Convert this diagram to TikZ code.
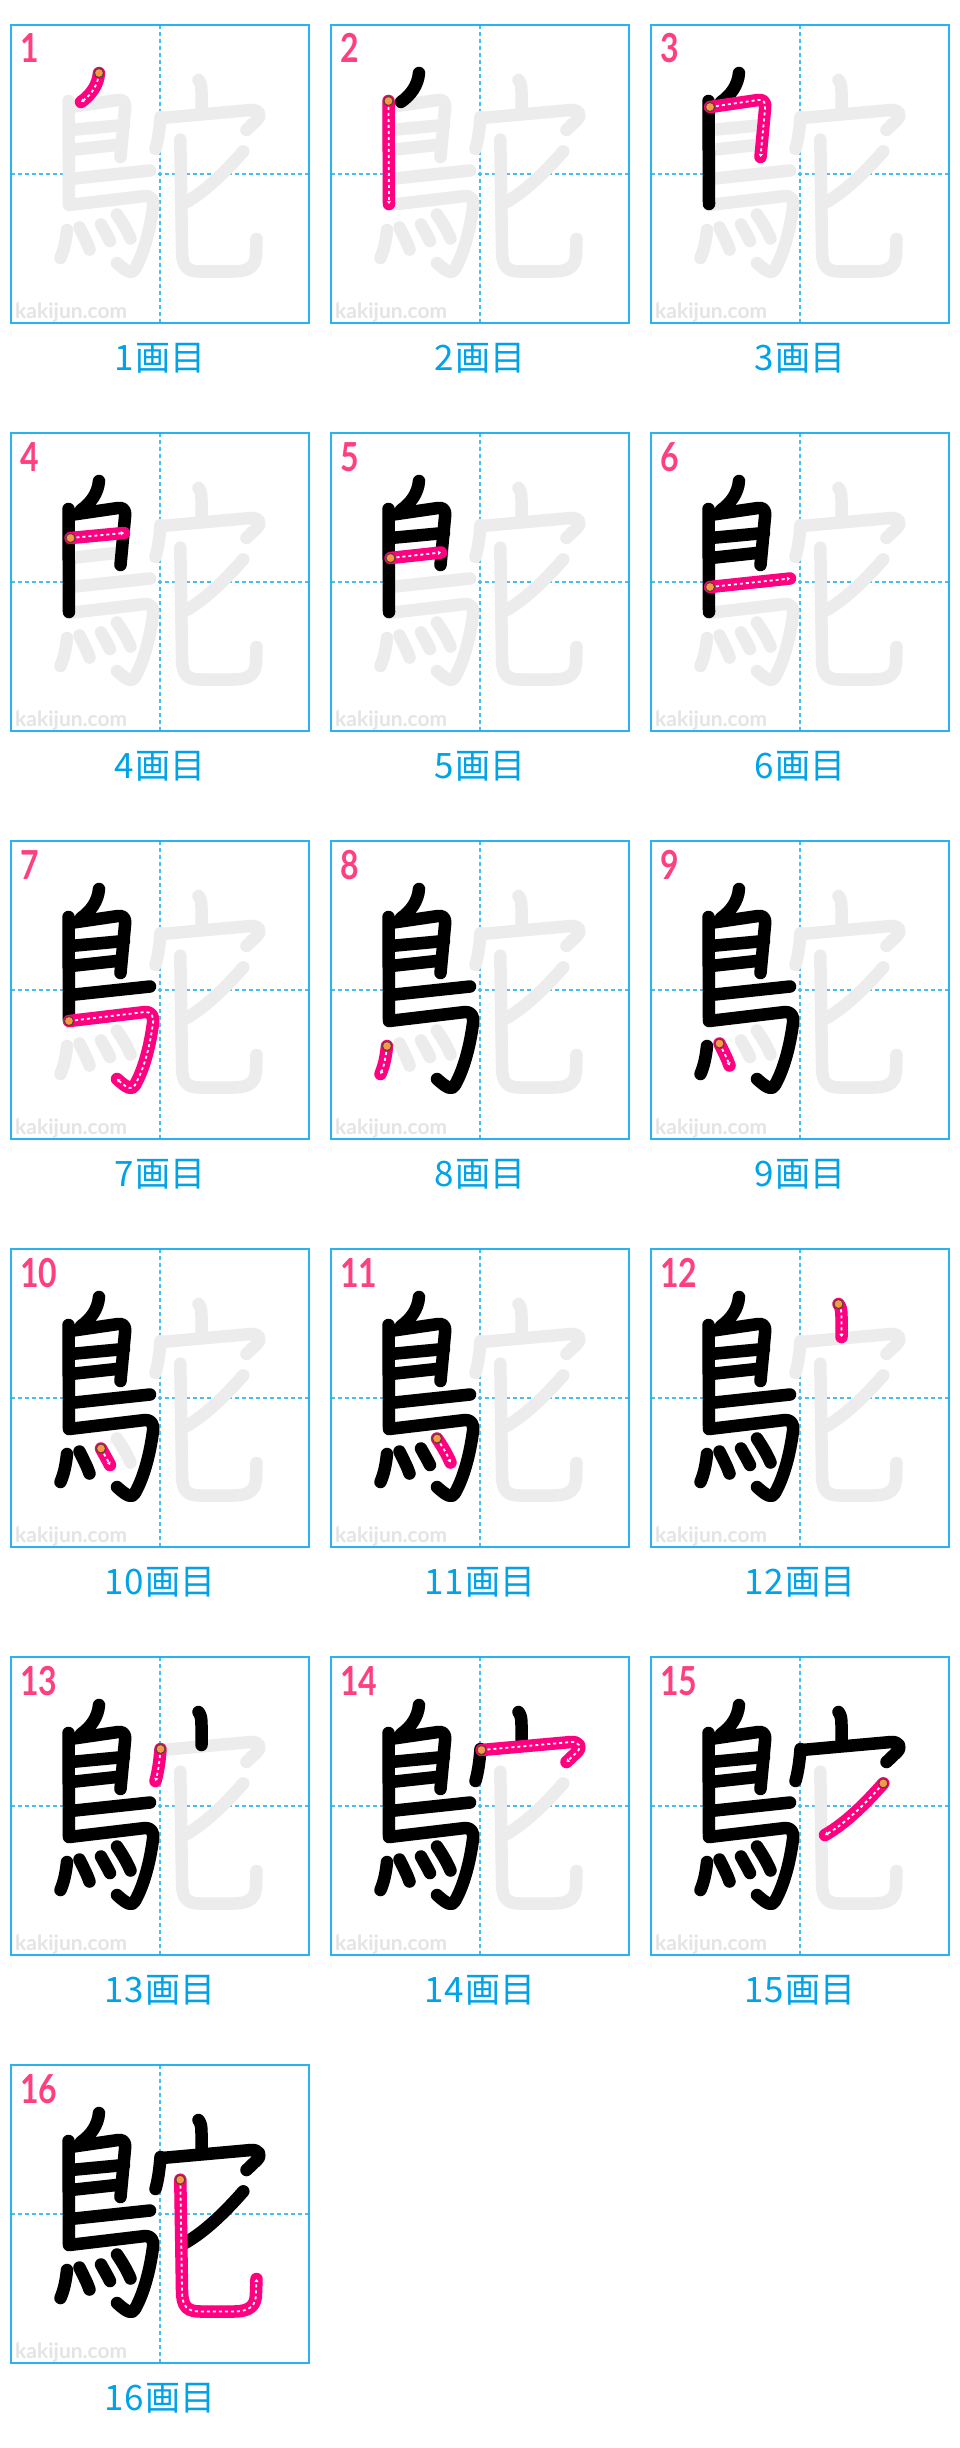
\documentclass[tikz,border=0pt]{standalone}
\usepackage{fontspec}
\usepackage{graphicx}
\usetikzlibrary{arrows.meta}
\newfontfamily\jpfont{Noto Sans CJK JP}
\newfontfamily\numfont{Lato}
\definecolor{framecol}{RGB}{40,178,240}
\definecolor{midcol}{RGB}{70,190,242}
\definecolor{ghostgray}{RGB}{236,236,236}
\definecolor{strokepink}{RGB}{255,0,128}
\definecolor{numpink}{RGB}{255,64,128}
\definecolor{capblue}{RGB}{0,162,232}
\definecolor{wmgray}{RGB}{228,228,228}
\definecolor{dotorange}{RGB}{248,152,72}
\definecolor{dotbrown}{RGB}{95,65,45}
\tikzset{
  kchr/.style={line width=12.5pt, line cap=round, line join=round},
  kghost/.style={kchr, draw=ghostgray},
  kdone/.style={kchr, draw=black},
  kactive/.style={kchr, draw=strokepink},
  kguide/.style={draw=white, line width=1.8pt, dash pattern=on 3pt off 3pt, -{Triangle[length=3pt,width=4pt]}},
  kdot/.style={fill=dotorange, draw=dotbrown, line width=1.2pt},
  kframe/.style={draw=framecol, line width=1.3pt},
  kmid/.style={draw=midcol, line width=1.6pt, dash pattern=on 4pt off 3pt},
  knum/.style={text=numpink, anchor=base west, inner sep=0pt, font=\numfont\bfseries\fontsize{40}{40}\selectfont},
  kcap/.style={text=capblue, anchor=base, inner sep=0pt, font=\jpfont\fontsize{35}{35}\selectfont},
  kwm/.style={text=wmgray, anchor=base west, inner sep=0pt, font=\numfont\bfseries\fontsize{21}{21}\selectfont},
}
\newcommand\drawstroke[2]{%
\ifcase#2\relax
\or \draw[#1] (88,48) .. controls (87,60) and (80,70) .. (70,77);
\or \draw[#1] (57.5,76) -- (58,179);
\or \draw[#1] (59,82) -- (107,75) .. controls (113,74) and (115,78) .. (114,84) -- (109.5,132);
\or \draw[#1] (59.5,105) -- (113,100);
\or \draw[#1] (59.5,125) -- (110,119.5);
\or \draw[#1] (59,154) -- (139,145.5);
\or \draw[#1] (58,180) -- (134,171) .. controls (140,170.5) and (143,175) .. (142,182) .. controls (139,205) and (133,228) .. (124,244) .. controls (121,249) and (117,248) .. (106,238);
\or \draw[#1] (56,205) .. controls (55,215) and (53,225) .. (49.5,233);
\or \draw[#1] (68.5,202.5) .. controls (72,210) and (76,217) .. (78.5,224.5);
\or \draw[#1] (90,199.5) .. controls (93,205) and (96,210) .. (99,216);
\or \draw[#1] (106,189.5) .. controls (111,197) and (116,205) .. (119.5,213.5);
\or \draw[#1] (187.5,55) .. controls (190,58) and (190.5,62) .. (190.5,68) -- (190.5,88);
\or \draw[#1] (149.5,92) .. controls (148.5,105) and (147,115) .. (144.5,124);
\or \draw[#1] (150.5,93) -- (240,85) .. controls (248,84.5) and (251,90) .. (246,95) -- (235.5,105);
\or \draw[#1] (232.3,126.3) .. controls (215,146) and (195,166) .. (174,178);
\or \draw[#1] (169.3,114.7) -- (171,225) .. controls (171,242) and (176,246.5) .. (190,246.5) -- (222,246.5) .. controls (240,246.5) and (245,240) .. (245,228) -- (245.5,214);
\fi}
\newcommand\startdot[1]{%
\ifcase#1\relax
\or \def\sx{88}\def\sy{48}%
\or \def\sx{57.5}\def\sy{76}%
\or \def\sx{59}\def\sy{82}%
\or \def\sx{59.5}\def\sy{105}%
\or \def\sx{59.5}\def\sy{125}%
\or \def\sx{59}\def\sy{154}%
\or \def\sx{58}\def\sy{180}%
\or \def\sx{56}\def\sy{205}%
\or \def\sx{68.5}\def\sy{202.5}%
\or \def\sx{90}\def\sy{199.5}%
\or \def\sx{106}\def\sy{189.5}%
\or \def\sx{187.5}\def\sy{55}%
\or \def\sx{149.5}\def\sy{92}%
\or \def\sx{150.5}\def\sy{93}%
\or \def\sx{232.3}\def\sy{126.3}%
\or \def\sx{169.3}\def\sy{114.7}%
\fi
\draw[kdot] (\sx,\sy) circle (4.6pt);}
\newcommand\kpanel[3]{%
\begin{scope}[shift={({11+320*#2},{25+408*#3})}]
  \draw[kmid] (149,0) -- (149,298);
  \draw[kmid] (0,149) -- (298,149);
  \draw[kframe] (0,0) rectangle (298,298);
  \node[kwm] (wm#1) at (4,293) {kakijun.com};
  \foreach \i in {1,...,16}{\drawstroke{kghost}{\i}}
  \foreach \i in {1,...,16}{\ifnum\i<#1\relax\drawstroke{kdone}{\i}\fi}
  \drawstroke{kactive}{#1}
  \drawstroke{kguide}{#1}
  \startdot{#1}
  \node[knum] (num#1) at (9,38) {\scalebox{0.8}[1]{#1}};
  \node[kcap] (cap#1) at (149,345) {#1\kern2pt 画目};
\end{scope}}
\begin{document}
\begin{tikzpicture}[x=1pt,y=-1pt]
\useasboundingbox (0,0) rectangle (960,2448);
\fill[white] (0,0) rectangle (960,2448);
\kpanel{1}{0}{0}
\kpanel{2}{1}{0}
\kpanel{3}{2}{0}
\kpanel{4}{0}{1}
\kpanel{5}{1}{1}
\kpanel{6}{2}{1}
\kpanel{7}{0}{2}
\kpanel{8}{1}{2}
\kpanel{9}{2}{2}
\kpanel{10}{0}{3}
\kpanel{11}{1}{3}
\kpanel{12}{2}{3}
\kpanel{13}{0}{4}
\kpanel{14}{1}{4}
\kpanel{15}{2}{4}
\kpanel{16}{0}{5}
\end{tikzpicture}
\end{document}
